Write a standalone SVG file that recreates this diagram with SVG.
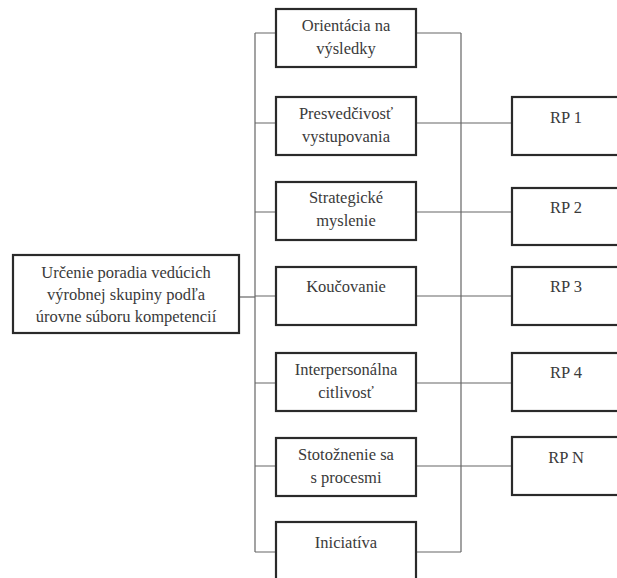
<svg xmlns="http://www.w3.org/2000/svg" width="617" height="578" viewBox="0 0 617 578" font-family="Liberation Serif, DejaVu Serif, serif">
<style>
.box{fill:#fff;stroke:#2a2a2a;stroke-width:2.2}
.t{font-size:16.5px;fill:#3a3a3a;text-anchor:middle}
.c{fill:none;stroke:#666;stroke-width:1.2}
</style>
<rect width="617" height="578" fill="#fff"/>
<g id="connectors">
<path class="c" d="M255 33V552M461 33V552"/>
<path class="c" d="M239 297H255"/>
<path class="c" d="M255 33H276M416 33H461"/>
<path class="c" d="M255 552H276M416 552H461"/>
<path class="c" d="M255 123H276M416 123H512"/>
<path class="c" d="M255 212H276M416 212H512"/>
<path class="c" d="M255 296H276M416 296H512"/>
<path class="c" d="M255 383H276M416 383H512"/>
<path class="c" d="M255 466H276M416 466H512"/>
</g>
<g id="main"><rect class="box" x="13" y="255" width="226" height="78"/>
<text class="t" x="126" y="278">Určenie poradia vedúcich</text>
<text class="t" x="126" y="300">výrobnej skupiny podľa</text>
<text class="t" x="126" y="322">úrovne súboru kompetencií</text></g>
<g id="n1"><rect class="box" x="276" y="9" width="140" height="58"/>
<text class="t" x="346" y="31">Orientácia na</text><text class="t" x="346" y="54">výsledky</text></g>
<g id="n2"><rect class="box" x="276" y="97" width="140" height="58"/>
<text class="t" x="346" y="119">Presvedčivosť</text><text class="t" x="346" y="142">vystupovania</text></g>
<g id="n3"><rect class="box" x="276" y="182" width="140" height="58"/>
<text class="t" x="346" y="203">Strategické</text><text class="t" x="346" y="226">myslenie</text></g>
<g id="n4"><rect class="box" x="276" y="267" width="140" height="58"/>
<text class="t" x="346" y="292">Koučovanie</text></g>
<g id="n5"><rect class="box" x="276" y="353" width="140" height="58"/>
<text class="t" x="346" y="375">Interpersonálna</text><text class="t" x="346" y="398">citlivosť</text></g>
<g id="n6"><rect class="box" x="276" y="438" width="140" height="58"/>
<text class="t" x="346" y="460">Stotožnenie sa</text><text class="t" x="346" y="483">s procesmi</text></g>
<g id="n7"><rect class="box" x="276" y="522" width="140" height="58"/>
<text class="t" x="346" y="548">Iniciatíva</text></g>
<g id="rp1"><rect class="box" x="512" y="97" width="112" height="58"/><text class="t" x="566" y="123">RP 1</text></g>
<g id="rp2"><rect class="box" x="512" y="188" width="112" height="57"/><text class="t" x="566" y="213">RP 2</text></g>
<g id="rp3"><rect class="box" x="512" y="267" width="112" height="58"/><text class="t" x="566" y="292">RP 3</text></g>
<g id="rp4"><rect class="box" x="512" y="353" width="112" height="58"/><text class="t" x="566" y="378">RP 4</text></g>
<g id="rpn"><rect class="box" x="512" y="437" width="112" height="58"/><text class="t" x="566" y="463">RP N</text></g>
</svg>
